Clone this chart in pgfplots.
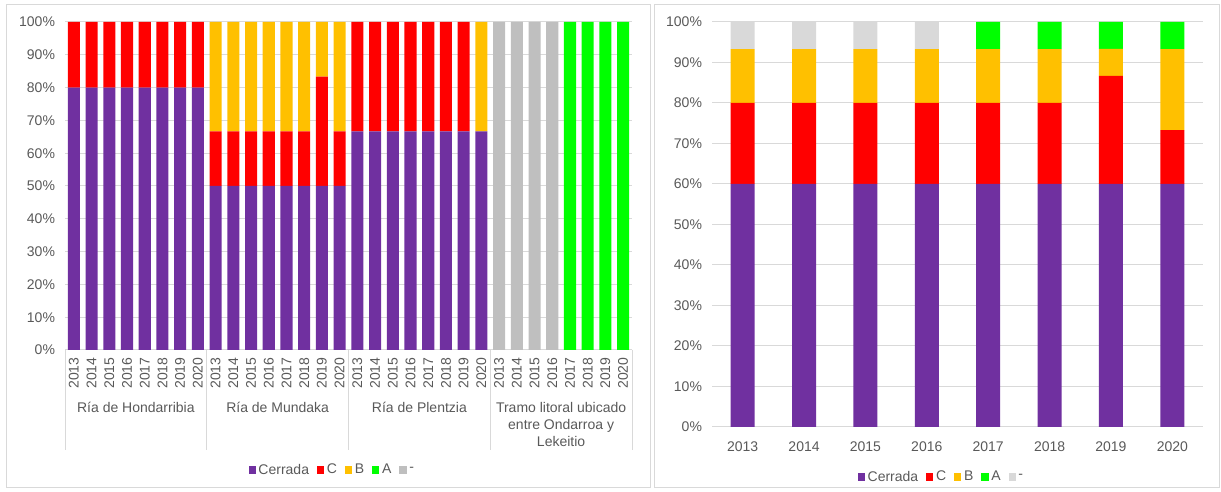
\documentclass[border=0pt]{standalone}
\usepackage{pgfplots}
\pgfplotsset{compat=1.18}
\usepackage{pgfplotstable}
\usepackage{fontspec}
\setmainfont{Liberation Sans}

\definecolor{cerrada}{HTML}{7030A0}
\definecolor{catc}{HTML}{FF0000}
\definecolor{catb}{HTML}{FFC000}
\definecolor{cata}{HTML}{00FF00}
\definecolor{nd}{HTML}{BFBFBF}
\definecolor{ndlight}{HTML}{D9D9D9}
\definecolor{gridgray}{HTML}{D9D9D9}
\definecolor{txt}{HTML}{595959}

% left panel: 4 zones x 8 years
\pgfplotstableread{
x  cerrada c     b     a   nd
0  80      20    0     0   0
1  80      20    0     0   0
2  80      20    0     0   0
3  80      20    0     0   0
4  80      20    0     0   0
5  80      20    0     0   0
6  80      20    0     0   0
7  80      20    0     0   0
8  50      16.67 33.33 0   0
9  50      16.67 33.33 0   0
10 50      16.67 33.33 0   0
11 50      16.67 33.33 0   0
12 50      16.67 33.33 0   0
13 50      16.67 33.33 0   0
14 50      33.33 16.67 0   0
15 50      16.67 33.33 0   0
16 66.67   33.33 0     0   0
17 66.67   33.33 0     0   0
18 66.67   33.33 0     0   0
19 66.67   33.33 0     0   0
20 66.67   33.33 0     0   0
21 66.67   33.33 0     0   0
22 66.67   33.33 0     0   0
23 66.67   0     33.33 0   0
24 0       0     0     0   100
25 0       0     0     0   100
26 0       0     0     0   100
27 0       0     0     0   100
28 0       0     0     100 0
29 0       0     0     100 0
30 0       0     0     100 0
31 0       0     0     100 0
}\zonas

% right panel: totals per year
\pgfplotstableread{
x cerrada c     b     a    nd
0 60      20    13.33 0    6.67
1 60      20    13.33 0    6.67
2 60      20    13.33 0    6.67
3 60      20    13.33 0    6.67
4 60      20    13.33 6.67 0
5 60      20    13.33 6.67 0
6 60      26.67 6.67  6.67 0
7 60      13.33 20    6.67 0
}\totales

\pgfplotsset{
  sqlegend/.style={
    legend image code/.code={\fill[##1] (0pt,-2.7pt) rectangle (5.4pt,2.7pt);}},
  excel/.style={
    scale only axis,
    ybar stacked,
    ymin=0, ymax=100,
    ytick={0,10,...,100},
    yticklabel={\pgfmathprintnumber{\tick}\%},
    /pgf/number format/assume math mode=true,
    ymajorgrids,
    grid style={gridgray, line width=0.75pt},
    axis line style={draw=none},
    major tick length=0pt,
    xtick pos=lower, ytick pos=left,
    tick label style={font=\fontsize{10.5}{12}\selectfont, color=txt},
    yticklabel style={xshift=-4pt},
    enlargelimits=false,
    every axis plot/.append style={draw=none},
    every axis plot post/.append style={sqlegend},
    legend columns=-1,
    legend style={draw=none, fill=none, anchor=center,
      font=\fontsize{10.5}{12}\selectfont, text=txt,
      /tikz/every even column/.append style={column sep=4pt}},
  },
}

\begin{document}
\begin{tikzpicture}
\path[use as bounding box] (0,0) rectangle (915.75pt,369pt);
\draw[gridgray, line width=0.75pt] (4.5pt,3pt) rectangle (487.5pt,365.25pt);
\draw[gridgray, line width=0.75pt] (490.5pt,3pt) rectangle (914.25pt,365.25pt);

\begin{axis}[excel,
    at={(48.75pt,106.5pt)},
    width=425.25pt, height=246pt,
    xmin=-0.5, xmax=31.5,
    bar width=0.68,
    xtick={0,...,31},
    xticklabels={2013,2014,2015,2016,2017,2018,2019,2020,
                 2013,2014,2015,2016,2017,2018,2019,2020,
                 2013,2014,2015,2016,2017,2018,2019,2020,
                 2013,2014,2015,2016,2017,2018,2019,2020},
    xticklabel style={rotate=90, anchor=east, inner xsep=5.5pt, inner ysep=0pt},
    legend style={at={(0.472,-0.366)}},
]
\addplot[fill=cerrada] table[x=x, y=cerrada] {\zonas};
\addplot[fill=catc] table[x=x, y=c] {\zonas};
\addplot[fill=catb] table[x=x, y=b] {\zonas};
\addplot[fill=cata] table[x=x, y=a] {\zonas};
\addplot[fill=nd] table[x=x, y=nd] {\zonas};
\legend{Cerrada,C,B,A,-}
\end{axis}

% multi-level category axis of the left panel
\foreach \sx in {48.75,155.06,261.38,367.69,474.0}
  \draw[gridgray, line width=0.75pt] (\sx pt,106.5pt) -- (\sx pt,31.5pt);
\begin{scope}[every node/.style={anchor=north, inner sep=0pt, color=txt,
    align=center, font=\fontsize{10.5}{12.6}\selectfont}]
\node at (101.91pt,67.5pt) {Ría de Hondarribia};
\node at (208.22pt,67.5pt) {Ría de Mundaka};
\node at (314.53pt,67.5pt) {Ría de Plentzia};
\node at (420.84pt,67.5pt) {Tramo litoral ubicado\\entre Ondarroa y\\Lekeitio};
\end{scope}

\begin{axis}[excel,
    at={(534pt,48.75pt)},
    width=368.25pt, height=303.75pt,
    xmin=-0.5, xmax=7.5,
    bar width=0.39,
    xtick={0,...,7},
    xticklabels={2013,2014,2015,2016,2017,2018,2019,2020},
    xticklabel style={yshift=-7.5pt},
    legend style={at={(0.468,-0.1235)}},
]
\addplot[fill=cerrada] table[x=x, y=cerrada] {\totales};
\addplot[fill=catc] table[x=x, y=c] {\totales};
\addplot[fill=catb] table[x=x, y=b] {\totales};
\addplot[fill=cata] table[x=x, y=a] {\totales};
\addplot[fill=ndlight] table[x=x, y=nd] {\totales};
\legend{Cerrada,C,B,A,-}
\end{axis}
\end{tikzpicture}
\end{document}
